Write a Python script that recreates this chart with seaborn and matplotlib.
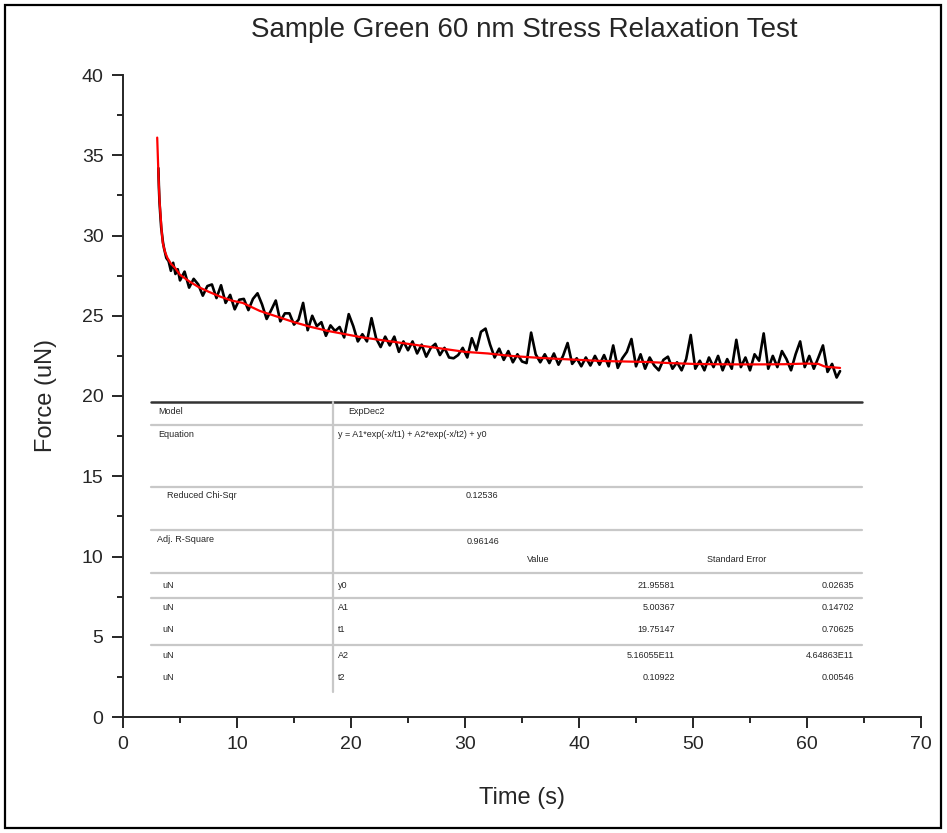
import matplotlib
matplotlib.use("Agg")
import matplotlib.pyplot as plt
import seaborn as sns
import pandas as pd
from matplotlib.lines import Line2D
from matplotlib.patches import Rectangle
from matplotlib.ticker import MultipleLocator

# measured trace (s, uN)
time_s = [3.1, 3.15, 3.2, 3.25, 3.3, 3.35, 3.4, 3.5, 3.6, 3.7, 3.8, 4.0, 4.2, 4.4, 4.6, 4.8,
          5.0, 5.4, 5.8, 6.2, 6.6, 7.0, 7.4, 7.8, 8.2, 8.6,
          9.0, 9.4, 9.8, 10.2, 10.6, 11.0, 11.4, 11.8, 12.2, 12.6,
          13.0, 13.4, 13.8, 14.2, 14.6, 15.0, 15.4, 15.8, 16.2, 16.6,
          17.0, 17.4, 17.8, 18.2, 18.6, 19.0, 19.4, 19.8, 20.2, 20.6,
          21.0, 21.4, 21.8, 22.2, 22.6, 23.0, 23.4, 23.8, 24.2, 24.6,
          25.0, 25.4, 25.8, 26.2, 26.6, 27.0, 27.4, 27.8, 28.2, 28.6,
          29.0, 29.4, 29.8, 30.2, 30.6, 31.0, 31.4, 31.8, 32.2, 32.6,
          33.0, 33.4, 33.8, 34.2, 34.6, 35.0, 35.4, 35.8, 36.2, 36.6,
          37.0, 37.4, 37.8, 38.2, 38.6, 39.0, 39.4, 39.8, 40.2, 40.6,
          41.0, 41.4, 41.8, 42.2, 42.6, 43.0, 43.4, 43.8, 44.2, 44.6,
          45.0, 45.4, 45.8, 46.2, 46.6, 47.0, 47.4, 47.8, 48.2, 48.6,
          49.0, 49.4, 49.8, 50.2, 50.6, 51.0, 51.4, 51.8, 52.2, 52.6,
          53.0, 53.4, 53.8, 54.2, 54.6, 55.0, 55.4, 55.8, 56.2, 56.6,
          57.0, 57.4, 57.8, 58.2, 58.6, 59.0, 59.4, 59.8, 60.2, 60.6,
          61.0, 61.4, 61.8, 62.2, 62.6, 62.9]
force_uN = [34.2, 33.0, 32.1, 31.5, 31.0, 30.5, 30.2, 29.6, 29.2, 28.9, 28.6, 28.4, 27.8, 28.3, 27.6, 27.9,
            27.2, 27.75, 26.75, 27.3, 26.95, 26.25, 26.85, 26.95, 26.1, 26.9,
            25.8, 26.3, 25.4, 26.0, 26.05, 25.35, 26.05, 26.4, 25.7, 24.8,
            25.35, 25.95, 24.65, 25.15, 25.15, 24.45, 24.75, 25.8, 24.1, 25.0,
            24.35, 24.6, 23.75, 24.4, 24.05, 24.3, 23.65, 25.1, 24.35, 23.4,
            23.85, 23.4, 24.85, 23.6, 23.05, 23.7, 23.15, 23.7, 22.75, 23.4,
            22.85, 23.4, 22.65, 23.2, 22.45, 23.0, 23.25, 22.55, 23.0, 22.4,
            22.35, 22.55, 23.0, 22.4, 23.6, 22.85, 24.0, 24.2, 23.2, 22.4,
            22.95, 22.25, 22.8, 22.1, 22.6, 22.15, 22.05, 23.95, 22.6, 22.1,
            22.6, 22.05, 22.65, 21.95, 22.5, 23.3, 22.0, 22.35, 21.85, 22.4,
            21.9, 22.5, 21.95, 22.55, 21.85, 23.15, 21.75, 22.35, 22.75, 23.55,
            21.85, 22.6, 21.7, 22.4, 21.9, 21.6, 22.25, 22.45, 21.7, 22.1,
            21.6, 22.3, 23.8, 21.7, 22.2, 21.6, 22.4, 21.8, 22.5, 21.6,
            22.3, 21.7, 23.5, 21.8, 22.4, 21.6, 22.6, 22.2, 23.9, 21.7,
            22.5, 21.8, 22.8, 22.3, 21.6, 22.6, 23.4, 21.8, 22.5, 21.7,
            22.4, 23.15, 21.5, 22.0, 21.15, 21.55]

# fitted curve
fit_time = [3.0, 3.1, 3.2, 3.3, 3.4, 3.5, 3.7, 3.9, 4.2, 4.6,
            5.0, 5.8, 6.6, 7.5, 8.5, 9.5, 10.5, 12.0, 13.5, 15.0,
            16.5, 18.0, 19.5, 21.0, 22.5, 24.0, 25.5, 27.0, 28.5, 30.0,
            32.0, 34.0, 36.0, 38.0, 40.0, 42.0, 44.0, 46.0, 48.0, 50.0,
            52.0, 54.0, 56.0, 58.0, 60.0, 61.0, 61.5, 62.0, 62.9]
fit_force = [36.1, 34.0, 32.2, 31.2, 30.2, 29.5, 28.95, 28.6, 28.25, 27.95,
             27.55, 27.15, 26.8, 26.5, 26.2, 25.95, 25.8, 25.3, 24.95, 24.6,
             24.3, 24.05, 23.85, 23.65, 23.5, 23.35, 23.2, 23.05, 22.9, 22.75,
             22.65, 22.5, 22.4, 22.32, 22.25, 22.18, 22.15, 22.12, 22.05, 22.0,
             21.98, 21.97, 21.97, 21.98, 22.02, 22.0, 21.85, 21.8, 21.75]

# fit report
model_name = "ExpDec2"
equation = "y = A1*exp(-x/t1) + A2*exp(-x/t2) + y0"
reduced_chi = "0.12536"
adj_r2 = "0.96146"
param_units = ["uN", "uN", "uN", "uN", "uN"]
param_names = ["y0", "A1", "t1", "A2", "t2"]
param_values = ["21.95581", "5.00367", "19.75147", "5.16055E11", "0.10922"]
param_errors = ["0.02635", "0.14702", "0.70625", "4.64863E11", "0.00546"]

sns.set_style("ticks")
plt.rcParams['font.family'] = ['Liberation Sans', 'DejaVu Sans']

W, H = 947, 833
fig = plt.figure(figsize=(W / 100, H / 100), dpi=100)
ax = fig.add_axes([123 / W, 1 - 717 / H, (921 - 123) / W, (717 - 75) / H])

data = pd.DataFrame({"Time": time_s, "Force": force_uN})
fit = pd.DataFrame({"Time": fit_time, "Force": fit_force})
sns.lineplot(data=data, x="Time", y="Force", color="black", lw=1.9, estimator=None, ax=ax)
sns.lineplot(data=fit, x="Time", y="Force", color="red", lw=1.6, estimator=None, ax=ax)

ax.set_xlim(0, 70)
ax.set_ylim(0, 40)
ax.xaxis.set_major_locator(MultipleLocator(10))
ax.xaxis.set_minor_locator(MultipleLocator(5))
ax.yaxis.set_major_locator(MultipleLocator(5))
ax.yaxis.set_minor_locator(MultipleLocator(2.5))
ax.tick_params(which="major", length=8, width=1.4, labelsize=14, direction="out", pad=6)
ax.tick_params(which="minor", length=4.5, width=1.4, direction="out")
for s in ["top", "right"]:
    ax.spines[s].set_visible(False)
for s in ["left", "bottom"]:
    ax.spines[s].set_linewidth(1.4)
ax.set_xlabel("Time (s)", fontsize=17, labelpad=24)
ax.set_ylabel("Force (uN)", fontsize=17, labelpad=18)
fig.text(524 / W, 1 - 30 / H, "Sample Green 60 nm Stress Relaxation Test",
         ha="center", va="center", fontsize=20)

# table drawn in figure pixels
def fx(x):
    return x / W

def fy(y):
    return 1 - y / H

def hline(y, color="#c8c8c8", lw=1.6):
    fig.add_artist(Line2D([fx(151), fx(862)], [fy(y), fy(y)], color=color, lw=lw,
                          transform=fig.transFigure))

def txt(x, y, s, ha="left"):
    fig.text(fx(x), fy(y), s, ha=ha, va="center", fontsize=6.5)

fig.add_artist(Rectangle((fx(151), fy(716)), fx(862) - fx(151), fy(401) - fy(716),
                         facecolor="white", edgecolor="none", transform=fig.transFigure))
hline(401.5, color="#333333", lw=1.8)
for yy in [425, 487, 530, 573, 598, 645]:
    hline(yy)
fig.add_artist(Line2D([fx(333), fx(333)], [fy(402), fy(692)], color="#c8c8c8", lw=1.6,
                      transform=fig.transFigure))

txt(158, 412, "Model")
txt(348, 412, model_name)
txt(158, 434, "Equation")
txt(338, 434, equation)
txt(167, 496, "Reduced Chi-Sqr")
txt(482, 496, reduced_chi, ha="center")
txt(157, 540, "Adj. R-Square")
txt(483, 541, adj_r2, ha="center")
txt(538, 560, "Value", ha="center")
txt(737, 560, "Standard Error", ha="center")
for i, yy in enumerate([585, 608, 630, 655, 678]):
    txt(162, yy, param_units[i])
    txt(338, yy, param_names[i])
    txt(675, yy, param_values[i], ha="right")
    txt(854, yy, param_errors[i], ha="right")

fig.add_artist(Rectangle((fx(5), fy(828)), fx(941) - fx(5), fy(5) - fy(828),
                         fill=False, edgecolor="black", lw=1.6, transform=fig.transFigure))

fig.savefig("out.png", dpi=100)
